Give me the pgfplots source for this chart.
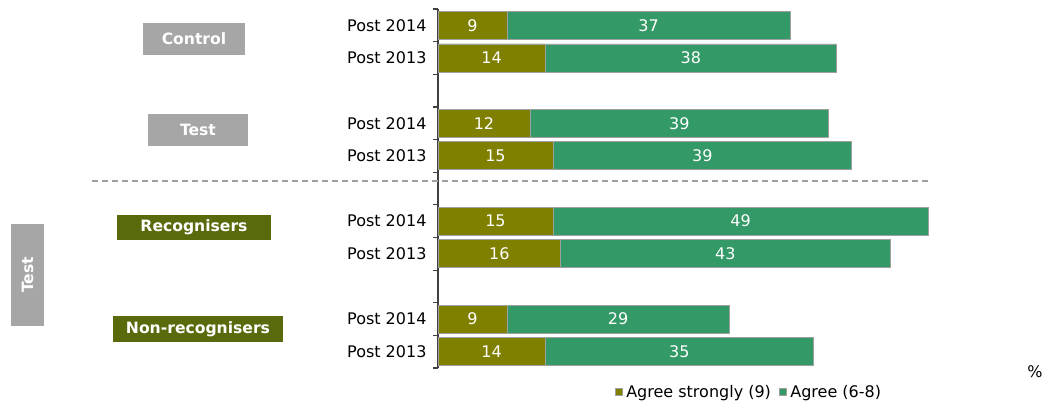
\documentclass[border=0pt]{standalone}
\usepackage{pgfplots}
\pgfplotsset{compat=1.18}
\usepackage{pgfplotstable}
\usepackage{fontspec}
\setmainfont{DejaVu Sans}
\definecolor{olivebar}{HTML}{808000}
\definecolor{greenbar}{HTML}{339966}
\definecolor{boxgray}{HTML}{A6A6A6}
\definecolor{boxolive}{HTML}{586A0C}
\definecolor{edgegray}{HTML}{A0A0A0}
\definecolor{axisgray}{HTML}{404040}
\pgfplotstableread{
y a b
0 9 37
1 14 38
3 12 39
4 15 39
6 15 49
7 16 43
9 9 29
10 14 35
}\datatab
\begin{document}
\begin{tikzpicture}[font=\fontsize{16}{19}\selectfont]
\useasboundingbox (0pt,0pt) rectangle (1044pt,-408pt);
\begin{axis}[
  at={(438pt,-368pt)}, anchor=south west,
  scale only axis, width=536.2pt, height=359pt,
  xmin=0, xmax=70, ymin=-0.5, ymax=10.5, y dir=reverse,
  axis x line=none, axis y line*=left,
  axis line style={draw=axisgray, line width=1.3pt},
  ytick={0,1,3,4,6,7,9,10},
  yticklabels={Post 2014,Post 2013,Post 2014,Post 2013,Post 2014,Post 2013,Post 2014,Post 2013},
  minor ytick={-0.5,0.5,...,10.5},
  major tick length=0pt, minor tick length=5pt, tick align=outside,
  minor tick style={draw=axisgray, line width=1.2pt},
  yticklabel style={xshift=-8pt, text=black},
  /pgf/number format/assume math mode=true,
  clip=false,
  legend style={at={(0.3295,-0.067)}, anchor=west, draw=none, fill=none,
    legend columns=2, /tikz/every even column/.append style={column sep=5pt},
    legend cell align=left, inner sep=0pt,
    nodes={inner xsep=3pt}},
  legend image code/.code={\draw[#1] (0pt,-3.5pt) rectangle (7pt,3.5pt);},
]
\addlegendimage{fill=olivebar, draw=edgegray}
\addlegendentry{\hspace{1pt}Agree strongly (9)}
\addlegendimage{fill=greenbar, draw=edgegray}
\addlegendentry{\hspace{1pt}Agree (6-8)}
% green bars (total length)
\addplot[xbar, bar width=28pt, bar shift=0pt, fill=greenbar, draw=edgegray, line width=0.8pt, forget plot]
  table[x expr=\thisrow{a}+\thisrow{b}, y=y] {\datatab};
% olive bars
\addplot[xbar, bar width=28pt, bar shift=0pt, fill=olivebar, draw=edgegray, line width=0.8pt, forget plot]
  table[x=a, y=y] {\datatab};
% labels
\addplot[only marks, mark size=0pt, draw=none, forget plot, point meta=explicit,
  nodes near coords, every node near coord/.style={anchor=center, text=white}]
  table[x expr=\thisrow{a}/2, y=y, meta=a] {\datatab};
\addplot[only marks, mark size=0pt, draw=none, forget plot, point meta=explicit,
  nodes near coords, every node near coord/.style={anchor=center, text=white}]
  table[x expr=\thisrow{a}+\thisrow{b}/2, y=y, meta=b] {\datatab};
\end{axis}
\draw[edgegray, line width=1.3pt, dash pattern=on 6pt off 4pt] (92pt,-181pt) -- (930pt,-181pt);
\tikzset{lbl/.style={text=white, font=\fontsize{15.6}{18}\selectfont\bfseries, inner sep=0pt}}
\node[lbl, fill=boxgray, minimum width=102pt, minimum height=32pt] at (194pt,-39pt) {Control};
\node[lbl, fill=boxgray, minimum width=100pt, minimum height=32pt] at (198pt,-130pt) {Test};
\node[lbl, fill=boxolive, minimum width=154pt, minimum height=25pt] at (194pt,-227pt) {Recognisers};
\node[lbl, fill=boxolive, minimum width=170pt, minimum height=26pt] at (198pt,-329pt) {Non-recognisers};
\node[lbl, fill=boxgray, minimum width=102pt, minimum height=33pt, rotate=90] at (27.5pt,-275pt) {Test};
\node at (1035pt,-372pt) {\%};
\end{tikzpicture}
\end{document}
